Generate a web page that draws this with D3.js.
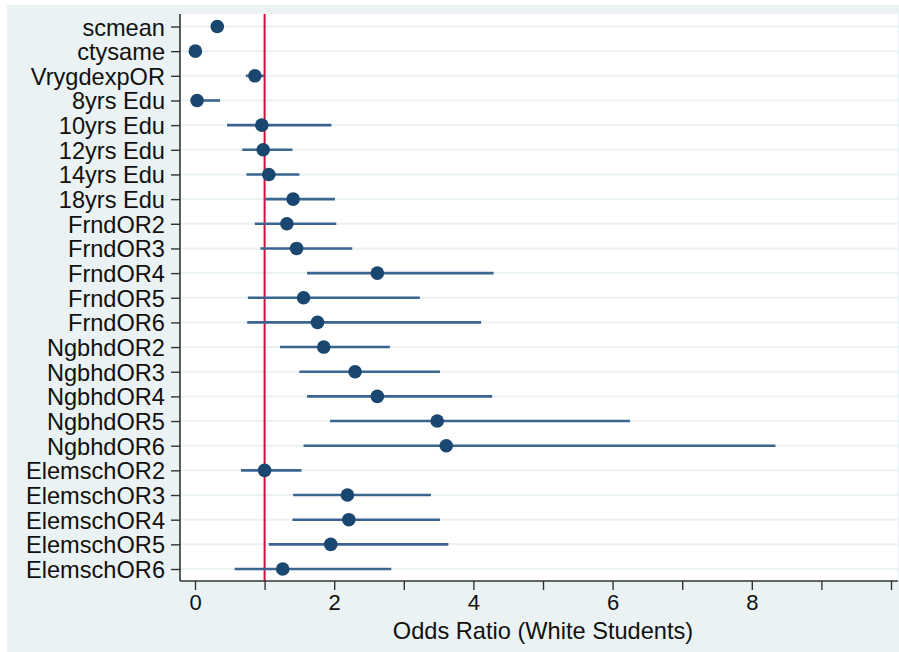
<!DOCTYPE html>
<html>
<head>
<meta charset="utf-8">
<script src="https://cdn.jsdelivr.net/npm/d3@7"></script>
<style>
  html, body { margin: 0; padding: 0; background: #ffffff; }
  svg { display: block; }
</style>
</head>
<body>
<svg id="chart" width="899" height="652"></svg>
<script>
// Data
const categories = [
  "scmean", "ctysame", "VrygdexpOR", "8yrs Edu", "10yrs Edu", "12yrs Edu",
  "14yrs Edu", "18yrs Edu", "FrndOR2", "FrndOR3", "FrndOR4", "FrndOR5",
  "FrndOR6", "NgbhdOR2", "NgbhdOR3", "NgbhdOR4", "NgbhdOR5", "NgbhdOR6",
  "ElemschOR2", "ElemschOR3", "ElemschOR4", "ElemschOR5", "ElemschOR6"
];
const oddsRatio = [
  0.32, 0.005, 0.86, 0.03, 0.96, 0.98, 1.06, 1.41, 1.32, 1.46, 2.62, 1.56,
  1.76, 1.85, 2.30, 2.62, 3.48, 3.61, 1.00, 2.19, 2.21, 1.95, 1.26
];
const ciLower = [
  0.29, 0.0, 0.73, 0.0, 0.46, 0.68, 0.74, 1.01, 0.86, 0.94, 1.61, 0.76,
  0.75, 1.22, 1.50, 1.61, 1.94, 1.56, 0.66, 1.41, 1.40, 1.06, 0.57
];
const ciUpper = [
  0.35, 0.01, 0.99, 0.36, 1.96, 1.40, 1.50, 2.01, 2.03, 2.26, 4.29, 3.23,
  4.11, 2.80, 3.52, 4.27, 6.25, 8.34, 1.53, 3.39, 3.52, 3.64, 2.82
];
const xTickValues = [0, 1, 2, 3, 4, 5, 6, 7, 8, 9, 10];
const xTickLabels = ["0", "", "2", "", "4", "", "6", "", "8", "", ""];
const referenceValue = 1;
const xTitle = "Odds Ratio (White Students)";

const rows = categories.map((c, i) => ({
  name: c, or: oddsRatio[i], lo: ciLower[i], hi: ciUpper[i]
}));

const svg = d3.select("#chart");
const W = 899, H = 652;

// outer background
svg.append("rect").attr("x", 7).attr("y", 5).attr("width", W - 7).attr("height", H - 5)
  .attr("fill", "#eaf2f3");

const plot = { left: 180, top: 14, right: 898, bottom: 581 };

svg.append("rect")
  .attr("x", plot.left).attr("y", plot.top)
  .attr("width", plot.right - plot.left).attr("height", plot.bottom - plot.top)
  .attr("fill", "#ffffff");

const x = d3.scaleLinear().domain([0, 10]).range([195, 891]);
const y = d3.scalePoint().domain(categories).range([26.5, 569]);

const font = "'Liberation Sans', Arial, Helvetica, sans-serif";

// horizontal grid lines
svg.append("g").selectAll("line").data(categories).join("line")
  .attr("x1", plot.left).attr("x2", plot.right)
  .attr("y1", d => y(d)).attr("y2", d => y(d))
  .attr("stroke", "#eaf2f3").attr("stroke-width", 2);

// reference line
svg.append("line")
  .attr("x1", x(referenceValue)).attr("x2", x(referenceValue))
  .attr("y1", plot.top).attr("y2", plot.bottom)
  .attr("stroke", "#d0103a").attr("stroke-width", 2);

// CI lines
svg.append("g").selectAll("line").data(rows).join("line")
  .attr("x1", d => x(d.lo)).attr("x2", d => x(d.hi))
  .attr("y1", d => y(d.name)).attr("y2", d => y(d.name))
  .attr("stroke", "#3b6590").attr("stroke-width", 2.6);

// points
svg.append("g").selectAll("circle").data(rows).join("circle")
  .attr("cx", d => x(d.or)).attr("cy", d => y(d.name))
  .attr("r", 6.8).attr("fill", "#1a476f");

// y axis
const yAxis = d3.axisLeft(y).tickSize(9).tickPadding(6);
const gy = svg.append("g").attr("transform", `translate(${plot.left},0)`).call(yAxis);
gy.select(".domain").attr("d", `M0,${plot.top}V${plot.bottom}`)
  .attr("stroke", "#333").attr("stroke-width", 1.6);
gy.selectAll(".tick line").attr("stroke", "#333").attr("stroke-width", 1.4);
gy.selectAll(".tick text").attr("font-family", font).attr("font-size", 23.6)
  .attr("fill", "#111").attr("dy", "0.36em");

// x axis
const xAxis = d3.axisBottom(x).tickValues(xTickValues)
  .tickFormat((d, i) => xTickLabels[i]).tickSize(9).tickPadding(4);
const gx = svg.append("g").attr("transform", `translate(0,${plot.bottom})`).call(xAxis);
gx.select(".domain").attr("d", `M${plot.left},0H${plot.right}`)
  .attr("stroke", "#333").attr("stroke-width", 1.6);
gx.selectAll(".tick line").attr("stroke", "#333").attr("stroke-width", 1.4);
gx.selectAll(".tick text").attr("font-family", font).attr("font-size", 22)
  .attr("fill", "#111");

// x title
svg.append("text")
  .attr("x", (x(0) + x(10)) / 2).attr("y", 639)
  .attr("text-anchor", "middle")
  .attr("font-family", font).attr("font-size", 23.6).attr("fill", "#111")
  .text(xTitle);
</script>
</body>
</html>
